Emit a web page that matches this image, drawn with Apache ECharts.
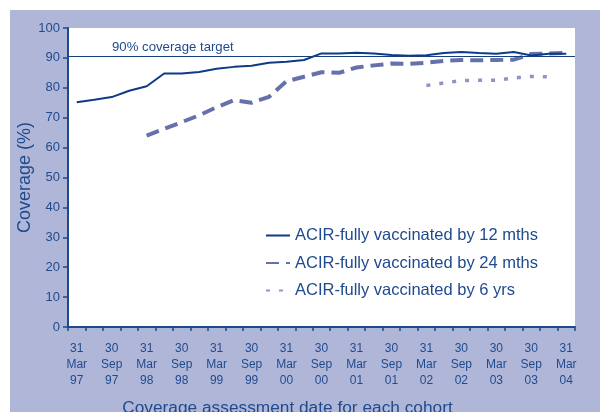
<!DOCTYPE html>
<html>
<head>
<meta charset="utf-8">
<script src="https://cdn.jsdelivr.net/npm/echarts@6/dist/echarts.min.js"></script>
<style>
  html, body { margin: 0; padding: 0; background: #fff; }
  #chart { position: absolute; left: 10px; top: 10px; width: 590px; height: 402px; }
</style>
</head>
<body>
<div id="chart"></div>
<script>
// quarterly assessment dates, 31 Mar 97 .. 31 Mar 04
var categories = ['Mar97','Jun97','Sep97','Dec97','Mar98','Jun98','Sep98','Dec98','Mar99','Jun99',
  'Sep99','Dec99','Mar00','Jun00','Sep00','Dec00','Mar01','Jun01','Sep01','Dec01',
  'Mar02','Jun02','Sep02','Dec02','Mar03','Jun03','Sep03','Dec03','Mar04'];
// labels shown on every second quarter (as printed in the original)
var tickLabels = ['31\nMar\n97','30\nSep\n97','31\nMar\n98','30\nSep\n98','31\nMar\n99','30\nSep\n99',
  '31\nMar\n00','30\nSep\n00','31\nMar\n01','30\nSep\n01','31\nMar\n02','30\nSep\n02',
  '30\nMar\n03','30\nSep\n03','31\nMar\n04'];

var by12mths = [75.2, 76.0, 76.9, 79.0, 80.5, 84.8, 84.8, 85.3, 86.4, 87.0,
  87.4, 88.4, 88.7, 89.3, 91.5, 91.5, 91.7, 91.5, 91.0, 90.7,
  90.9, 91.6, 92.0, 91.6, 91.4, 92.0, 90.8, 91.4, 91.4];
var by24mths = ['-', '-', '-', '-', 64.0, 66.3, 68.5, 70.8, 73.5, 75.9,
  75.0, 77.0, 82.2, 83.7, 85.2, 85.0, 86.8, 87.5, 88.1, 88.0,
  88.4, 89.0, 89.3, 89.2, 89.3, 89.4, 91.3, 91.5, 91.7];
var by6yrs = ['-', '-', '-', '-', '-', '-', '-', '-', '-', '-',
  '-', '-', '-', '-', '-', '-', '-', '-', '-', '-',
  80.8, 81.6, 82.4, 82.5, 82.5, 83.3, 83.8, 83.7, '-'];
var target = 90.5;

var navy = '#0d3b86';
var textBlue = '#1f4a8e';
var font = 'Liberation Sans, Arial, sans-serif';

var myChart = echarts.init(document.getElementById('chart'));
var option = {
  backgroundColor: '#b0b6d8',
  animation: false,
  textStyle: { fontFamily: font },
  grid: {
    left: 58, right: 25, top: 18, bottom: 85,
    outerBoundsMode: 'none',
    containLabel: false,
    show: true, backgroundColor: '#fff', borderWidth: 0
  },
  legend: {
    orient: 'vertical',
    left: 250, top: 212,
    itemWidth: 24, itemHeight: 10, itemGap: 10.5,
    itemStyle: { opacity: 0 },
    textStyle: { color: textBlue, fontSize: 16.5, fontFamily: font },
    data: ['ACIR-fully vaccinated by 12 mths', 'ACIR-fully vaccinated by 24 mths', 'ACIR-fully vaccinated by 6 yrs']
  },
  xAxis: {
    type: 'category',
    data: categories,
    boundaryGap: true,
    name: 'Coverage assessment date for each cohort',
    nameLocation: 'middle',
    nameGap: 73,
    nameMoveOverlap: false,
    nameTextStyle: { color: textBlue, fontSize: 17.3, padding: [0, 68, 0, 0] },
    axisLine: { lineStyle: { color: '#1d4a8c', width: 2 } },
    axisTick: { show: true, interval: 0, length: 4, lineStyle: { color: '#1d4a8c', width: 1.5 } },
    axisLabel: {
      interval: 1, color: textBlue, fontSize: 12, lineHeight: 16, margin: 14,
      formatter: function (v, i) { return tickLabels[i / 2]; }
    },
    splitLine: { show: false }
  },
  yAxis: {
    type: 'value',
    min: 0, max: 100, interval: 10,
    name: 'Coverage (%)',
    nameLocation: 'middle',
    nameGap: 34,
    nameMoveOverlap: false,
    nameTextStyle: { color: textBlue, fontSize: 18 },
    axisLine: { show: true, lineStyle: { color: '#1d4a8c', width: 2 } },
    axisTick: { show: true, length: 5, lineStyle: { color: '#1d4a8c', width: 1.5 } },
    axisLabel: { color: textBlue, fontSize: 13, margin: 8 },
    splitLine: { show: false }
  },
  series: [
    {
      name: 'ACIR-fully vaccinated by 12 mths',
      type: 'line',
      data: by12mths,
      symbol: 'none',
      color: navy,
      lineStyle: { color: navy, width: 2 },
      z: 3,
      markLine: {
        silent: true,
        symbol: 'none',
        lineStyle: { color: '#17407f', width: 1, type: 'solid' },
        label: {
          formatter: '90% coverage target',
          position: 'insideStartTop',
          distance: [44, 3],
          color: textBlue, fontSize: 13.2, fontFamily: font
        },
        data: [{ yAxis: target }]
      }
    },
    {
      name: 'ACIR-fully vaccinated by 24 mths',
      type: 'line',
      data: by24mths,
      symbol: 'none',
      color: '#6670aa',
      lineStyle: { color: '#6670aa', width: 4, type: [13, 7] },
      z: 2
    },
    {
      name: 'ACIR-fully vaccinated by 6 yrs',
      type: 'line',
      data: by6yrs,
      symbol: 'none',
      color: '#8c94c8',
      lineStyle: { color: '#8c94c8', width: 3.5, type: [4, 9] },
      z: 2
    }
  ]
};
myChart.setOption(option);
window.addEventListener('resize', function () { myChart.resize(); });
</script>
</body>
</html>
